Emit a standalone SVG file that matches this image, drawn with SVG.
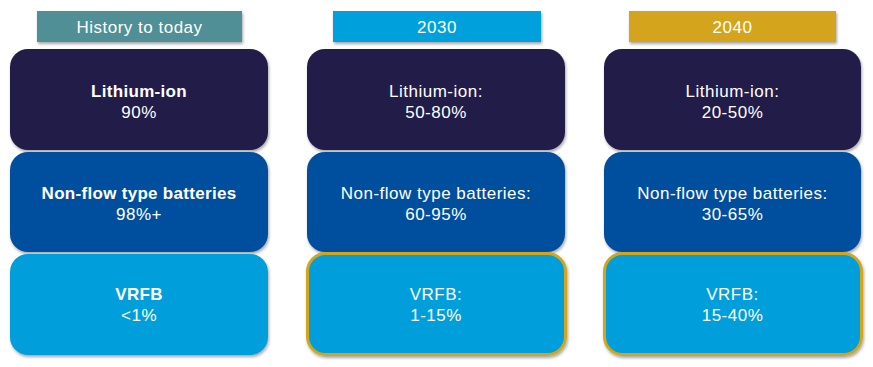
<svg xmlns="http://www.w3.org/2000/svg" width="873" height="367" viewBox="0 0 873 367">
<defs>
<filter id="sh" x="-10%" y="-10%" width="120%" height="130%">
<feDropShadow dx="1" dy="2" stdDeviation="1.5" flood-color="#000" flood-opacity="0.35"/>
</filter>
</defs>
<style>
text{font-family:"Liberation Sans",Arial,sans-serif;font-size:17px;letter-spacing:0.5px;fill:#fff;text-anchor:middle}
.b{font-weight:bold;letter-spacing:0.3px}
.li{fill:#211a48}
.nf{fill:#00509e}
.vr{fill:#009edb}
.gold{stroke:#d4a51c;stroke-width:3}
</style>
<rect width="873" height="367" fill="#fff"/>
<g id="hdr1"><rect x="37" y="11" width="205" height="31" fill="#4f8f95" filter="url(#sh)"/><text x="139.5" y="33">History to today</text></g>
<g id="hdr2"><rect x="333" y="11" width="208" height="31" fill="#00a0dc" filter="url(#sh)"/><text x="437" y="33">2030</text></g>
<g id="hdr3"><rect x="629" y="11" width="207" height="31" fill="#d4a51c" filter="url(#sh)"/><text x="732.5" y="33">2040</text></g>

<g id="c1-li"><rect class="li" x="10" y="49" width="258" height="101" rx="18" filter="url(#sh)"/><text class="b" x="139" y="97">Lithium-ion</text><text x="139" y="118">90%</text></g>
<g id="c1-nf"><rect class="nf" x="10" y="152" width="258" height="100" rx="18" filter="url(#sh)"/><text class="b" x="139" y="199">Non-flow type batteries</text><text x="139" y="220">98%+</text></g>
<g id="c1-vr"><rect class="vr" x="10" y="254" width="258" height="101" rx="18" filter="url(#sh)"/><text class="b" x="139" y="300">VRFB</text><text x="139" y="321">&lt;1%</text></g>

<g id="c2-li"><rect class="li" x="307" y="49" width="258" height="101" rx="18" filter="url(#sh)"/><text x="436" y="97">Lithium-ion:</text><text x="436" y="118">50-80%</text></g>
<g id="c2-nf"><rect class="nf" x="307" y="152" width="258" height="100" rx="18" filter="url(#sh)"/><text x="436" y="199">Non-flow type batteries:</text><text x="436" y="220">60-95%</text></g>
<g id="c2-vr"><rect class="vr gold" x="307.5" y="253.5" width="258" height="101" rx="18" filter="url(#sh)"/><text x="436" y="300">VRFB:</text><text x="436" y="321">1-15%</text></g>

<g id="c3-li"><rect class="li" x="604" y="49" width="257" height="101" rx="18" filter="url(#sh)"/><text x="732.5" y="97">Lithium-ion:</text><text x="732.5" y="118">20-50%</text></g>
<g id="c3-nf"><rect class="nf" x="604" y="152" width="257" height="100" rx="18" filter="url(#sh)"/><text x="732.5" y="199">Non-flow type batteries:</text><text x="732.5" y="220">30-65%</text></g>
<g id="c3-vr"><rect class="vr gold" x="604.5" y="253.5" width="257" height="101" rx="18" filter="url(#sh)"/><text x="732.5" y="300">VRFB:</text><text x="732.5" y="321">15-40%</text></g>
<g id="connectors"/>
</svg>
